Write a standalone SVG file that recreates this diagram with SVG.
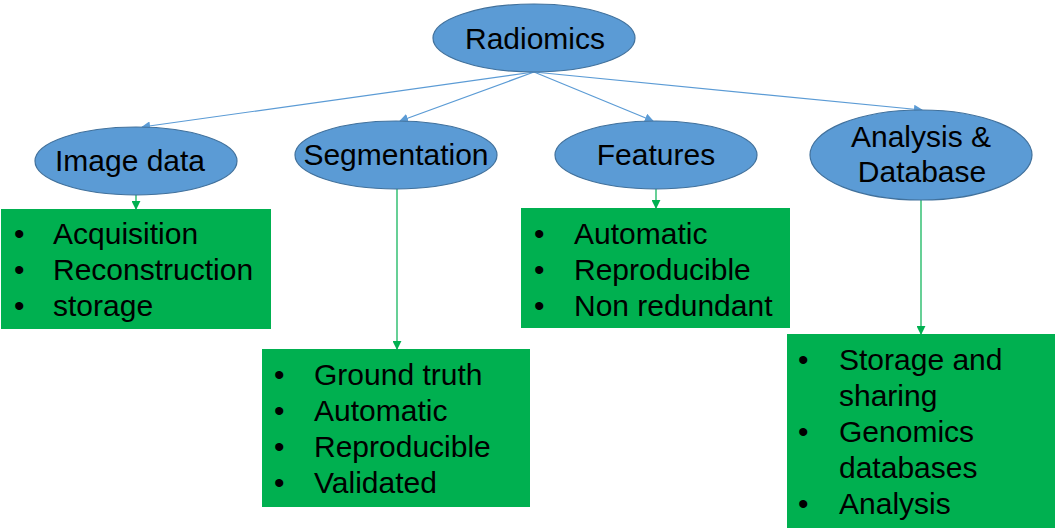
<svg xmlns="http://www.w3.org/2000/svg" width="1055" height="528" viewBox="0 0 1055 528">
  <style>
    .oval { fill: #5B9BD5; stroke: #41719C; stroke-width: 1.2; }
    .box { fill: #00B050; }
    .lbl { font-family: "Liberation Sans", Arial, sans-serif; font-size: 30px; fill: #000; }
    .mid { text-anchor: middle; }
    .blue { stroke: #5B9BD5; stroke-width: 1.2; fill: none; }
    .green { stroke: #00B050; stroke-width: 1.2; fill: none; }
  </style>
  <defs>
    <marker id="arrBlue" viewBox="0 0 10 10" refX="9" refY="5" markerWidth="9" markerHeight="9" markerUnits="userSpaceOnUse" orient="auto">
      <path d="M0,0 L10,5 L0,10 Z" fill="#5B9BD5"/>
    </marker>
    <marker id="arrGreen" viewBox="0 0 10 10" refX="9" refY="5" markerWidth="9" markerHeight="9" markerUnits="userSpaceOnUse" orient="auto">
      <path d="M0,0 L10,5 L0,10 Z" fill="#00B050"/>
    </marker>
  </defs>

  <!-- connectors -->
  <g id="connectors">
    <line class="blue" x1="534" y1="72" x2="142" y2="127" marker-end="url(#arrBlue)"/>
    <line class="blue" x1="534" y1="72" x2="400" y2="121" marker-end="url(#arrBlue)"/>
    <line class="blue" x1="534" y1="72" x2="653" y2="121" marker-end="url(#arrBlue)"/>
    <line class="blue" x1="534" y1="72" x2="922" y2="110" marker-end="url(#arrBlue)"/>
    <line class="green" x1="136" y1="195" x2="136" y2="209" marker-end="url(#arrGreen)"/>
    <line class="green" x1="397" y1="189" x2="397" y2="349" marker-end="url(#arrGreen)"/>
    <line class="green" x1="656" y1="189" x2="656" y2="208" marker-end="url(#arrGreen)"/>
    <line class="green" x1="921" y1="200" x2="921" y2="334" marker-end="url(#arrGreen)"/>
  </g>

  <g id="radiomics">
    <ellipse class="oval" cx="534" cy="38" rx="101" ry="34"/>
    <text class="lbl mid" x="535" y="49">Radiomics</text>
  </g>

  <g id="image-data">
    <ellipse class="oval" cx="136" cy="161" rx="101" ry="34"/>
    <text class="lbl mid" x="130" y="171">Image data</text>
  </g>

  <g id="segmentation">
    <ellipse class="oval" cx="396" cy="155" rx="101" ry="34"/>
    <text class="lbl mid" x="396" y="165">Segmentation</text>
  </g>

  <g id="features">
    <ellipse class="oval" cx="656" cy="155" rx="101" ry="34"/>
    <text class="lbl mid" x="656" y="165">Features</text>
  </g>

  <g id="analysis-database">
    <ellipse class="oval" cx="921" cy="155" rx="111" ry="45"/>
    <text class="lbl mid" x="921" y="147">Analysis &amp;</text>
    <text class="lbl mid" x="922" y="182">Database</text>
  </g>

  <g id="image-data-items">
    <rect class="box" x="1" y="209" width="270" height="120"/>
    <text class="lbl" x="14" y="244">•</text>
    <text class="lbl" x="53" y="244">Acquisition</text>
    <text class="lbl" x="14" y="280">•</text>
    <text class="lbl" x="53" y="280">Reconstruction</text>
    <text class="lbl" x="14" y="316">•</text>
    <text class="lbl" x="53" y="316">storage</text>
  </g>

  <g id="segmentation-items">
    <rect class="box" x="262" y="349" width="268" height="158"/>
    <text class="lbl" x="274" y="385">•</text>
    <text class="lbl" x="314" y="385">Ground truth</text>
    <text class="lbl" x="274" y="421">•</text>
    <text class="lbl" x="314" y="421">Automatic</text>
    <text class="lbl" x="274" y="457">•</text>
    <text class="lbl" x="314" y="457">Reproducible</text>
    <text class="lbl" x="274" y="493">•</text>
    <text class="lbl" x="314" y="493">Validated</text>
  </g>

  <g id="features-items">
    <rect class="box" x="521" y="208" width="269" height="120"/>
    <text class="lbl" x="534" y="244">•</text>
    <text class="lbl" x="574" y="244">Automatic</text>
    <text class="lbl" x="534" y="280">•</text>
    <text class="lbl" x="574" y="280">Reproducible</text>
    <text class="lbl" x="534" y="316">•</text>
    <text class="lbl" x="574" y="316">Non redundant</text>
  </g>

  <g id="analysis-items">
    <rect class="box" x="787" y="334" width="268" height="194"/>
    <text class="lbl" x="798" y="370">•</text>
    <text class="lbl" x="839" y="370">Storage and</text>
    <text class="lbl" x="839" y="406">sharing</text>
    <text class="lbl" x="798" y="442">•</text>
    <text class="lbl" x="839" y="442">Genomics</text>
    <text class="lbl" x="839" y="478">databases</text>
    <text class="lbl" x="798" y="514">•</text>
    <text class="lbl" x="839" y="514">Analysis</text>
  </g>
</svg>
